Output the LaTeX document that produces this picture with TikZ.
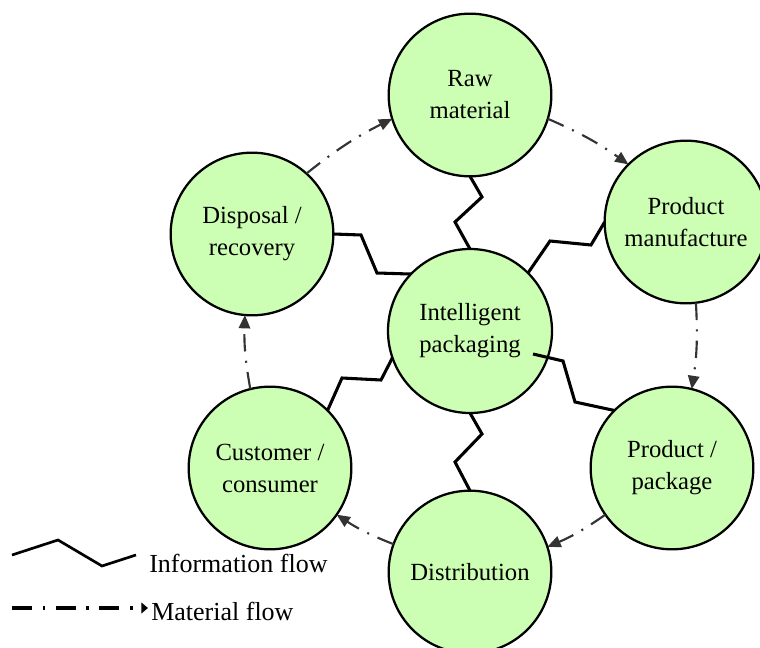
\documentclass[tikz,border=0pt]{standalone}
\usepackage{fontspec}
\setmainfont{Liberation Serif}
\usetikzlibrary{arrows.meta}
\definecolor{stagefill}{RGB}{204,255,179}
\begin{document}
\begin{tikzpicture}[x=0.75pt,y=-0.75pt,
  stage/.style={circle,draw=black,line width=1.7pt,fill=stagefill,
    minimum size=122pt,inner sep=0pt,outer sep=0pt,align=center,
    font=\fontsize{18.5}{24}\selectfont},
  info/.style={line width=2.3pt,line join=miter},
  matflow/.style={draw=black!80,line width=1.6pt,
    dash pattern=on 13pt off 7pt on 1.5pt off 7pt,
    -{Triangle[length=10pt,width=8.5pt]}},
  legendtext/.style={anchor=west,inner sep=0pt,font=\fontsize{19.5}{22}\selectfont}]
\useasboundingbox (0,0) rectangle (760,648);

% stages of the packaging life cycle
\node[stage,minimum size=123pt] (core) at (470,331) {Intelligent\\packaging};
\node[stage] (raw)  at (470,95)  {Raw\\material};
\node[stage] (manu) at (686,222) {Product\\manufacture};
\node[stage] (pack) at (672,468) {Product /\\package};
\node[stage] (dist) at (470,572) {Distribution};
\node[stage] (cust) at (270,468) {Customer /\\consumer};
\node[stage] (disp) at (252,234) {Disposal /\\recovery};

% information links to the intelligent packaging
\draw[info] (raw.270) -- (482,197) -- (455,222) -- (core.90);
\draw[info] (core.45) -- (550,241) -- (591,245) -- (manu.180);
\draw[info] (disp.0) -- (361,235) -- (377,273) -- (core.136);
\draw[info] (core.199) -- (381,380) -- (342,378) -- (cust.45);
\draw[info] (533,354) -- (563,361) -- (575,402) -- (pack.135);
\draw[info] (core.270) -- (482,434) -- (455,462) -- (dist.90);

% material flow around the cycle
\draw[matflow] (disp.48)  to[bend left=6] (raw.197);
\draw[matflow] (raw.-17)  to[bend left=6] (manu.135);
\draw[matflow] (manu.-83) to[bend left=6] (pack.76);
\draw[matflow] (pack.215) to[bend left=6] (dist.18);
\draw[matflow] (dist.160) to[bend left=6] (cust.-35);
\draw[matflow] (cust.104) to[bend left=6] (disp.-95);

% legend
\coordinate (i0) at (12,555);
\coordinate (i1) at (136,555);
\draw[line width=2pt] (i0) -- (58,540) -- (102,566) -- (i1);
\node[legendtext] (itxt) at (149,563) {Information flow};
\coordinate (m0) at (12,608);
\coordinate (m1) at (148,608);
\draw[line width=2.6pt,dash pattern=on 15pt off 8pt on 1.8pt off 8pt,
  -{Triangle[length=5pt,width=8pt]}] (m0) -- (m1);
\node[legendtext] (mtxt) at (151,611) {Material flow};
\end{tikzpicture}
\end{document}
